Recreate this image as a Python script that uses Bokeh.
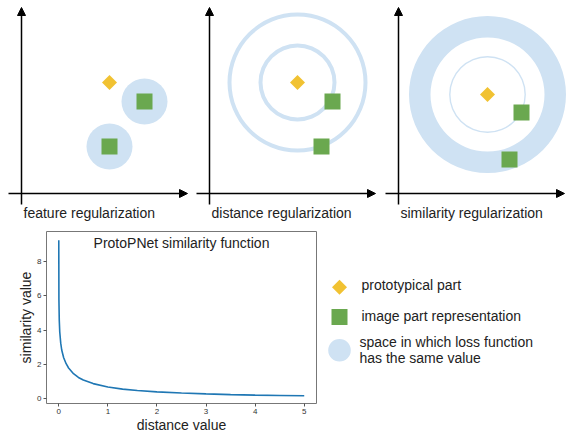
import numpy as np
from bokeh.plotting import figure
from bokeh.models import Range1d, Arrow, NormalHead, FixedTicker
from bokeh.layouts import column, row
from bokeh.embed import file_html
from bokeh.resources import INLINE
from bokeh.core.properties import value

FONT = "Liberation Sans"
LIGHT_BLUE = "#cfe2f3"
GREEN = "#6aa84f"
GOLD = "#f1c232"

# ---------------- data ----------------
panel_titles = ["feature regularization", "distance regularization", "similarity regularization"]
# diagram positions in each panel's own units (origin at the axis crossing, y up)
proto_x = [88, 88, 89]
proto_y = [111, 111, 99]
part_x = [[123, 88], [123, 112], [123, 111]]
part_y = [[92, 47], [92, 47], [81, 34]]
feature_radius = [23, 23]
distance_radii = [37, 68]
similarity_thin_radius = [37.7]
similarity_band = [57, 78.5]

distance = [0.0, 0.003, 0.01, 0.02, 0.04, 0.06, 0.1, 0.15, 0.2, 0.3, 0.4, 0.5,
            0.7, 1.0, 1.3, 1.6, 2.0, 2.5, 3.0, 3.5, 4.0, 4.5, 5.0]
similarity = [9.25, 5.8, 4.6, 3.9, 3.25, 2.85, 2.4, 2.05, 1.8, 1.47, 1.25, 1.1,
              0.89, 0.69, 0.57, 0.49, 0.41, 0.34, 0.29, 0.25, 0.22, 0.20, 0.18]
x_ticks = [0, 1, 2, 3, 4, 5]
y_ticks = [0, 2, 4, 6, 8]
legend_labels = ["prototypical part", "image part representation",
                 "space in which loss function\nhas the same value"]

# ---------------- top: three panels ----------------
TOP_H = 228
top = figure(width=568, height=TOP_H, x_range=Range1d(0, 568), y_range=Range1d(TOP_H, 0),
             output_backend="svg", toolbar_location=None, min_border=0)
top.axis.visible = False
top.grid.visible = False
top.outline_line_color = None

origin_x = [21, 209, 398]
origin_y = 193

def sx(i, v):
    return origin_x[i] + np.asarray(v, dtype=float)

def sy(v):
    return origin_y - np.asarray(v, dtype=float)

# panel 1: circles around the parts
top.circle(sx(0, part_x[0]), sy(part_y[0]), radius=feature_radius,
           fill_color=LIGHT_BLUE, line_color=None)
# panel 2: rings around the prototype
for r in distance_radii:
    top.annulus(x=[sx(1, proto_x[1])], y=[sy(proto_y[1])], inner_radius=r - 2,
                outer_radius=r + 2, fill_color=LIGHT_BLUE, line_color=None)
# panel 3: thick band + thin circle
top.annulus(x=[sx(2, proto_x[2])], y=[sy(proto_y[2])], inner_radius=similarity_band[0],
            outer_radius=similarity_band[1], fill_color=LIGHT_BLUE, line_color=None)
for r in similarity_thin_radius:
    top.annulus(x=[sx(2, proto_x[2])], y=[sy(proto_y[2])], inner_radius=r - 0.7,
                outer_radius=r + 0.7, fill_color=LIGHT_BLUE, line_color=None)

for i in range(3):
    top.scatter(sx(i, part_x[i]), sy(part_y[i]), marker="square", size=16,
                fill_color=GREEN, line_color=None)
    top.scatter([sx(i, proto_x[i])], [sy(proto_y[i])], marker="square", angle=np.pi / 4,
                size=10.6, fill_color=GOLD, line_color=None)
    ox = origin_x[i]
    top.add_layout(Arrow(end=NormalHead(size=8, fill_color="black", line_color="black", line_width=1),
                         x_start=ox, y_start=204, x_end=ox, y_end=7,
                         line_color="black", line_width=1.5))
    top.add_layout(Arrow(end=NormalHead(size=8, fill_color="black", line_color="black", line_width=1),
                         x_start=ox - 13, y_start=origin_y, x_end=min(ox + 166, 565), y_end=origin_y,
                         line_color="black", line_width=1.5))
    top.text(x=[ox + 2], y=[212], text=[panel_titles[i]], text_font=value(FONT),
             text_font_size="14px", text_baseline="middle", text_align="left",
             text_color="#222222")

# ---------------- bottom left: similarity function ----------------
BOT_H = 435 - TOP_H
B_TOP, B_BOTTOM = 3, 28
p = figure(width=320, height=BOT_H, x_range=Range1d(-0.25, 5.25), y_range=Range1d(-0.27, 9.76),
           output_backend="svg", toolbar_location=None,
           min_border_left=46, min_border_right=4, min_border_top=B_TOP, min_border_bottom=B_BOTTOM)
p.grid.visible = False
p.outline_line_color = "#777777"
p.outline_line_width = 1
p.line(distance, similarity, line_color="#1f77b4", line_width=1.6)
p.text(x=[2.5], y=[9.1], text=["ProtoPNet similarity function"], text_font=value(FONT),
       text_font_size="14px", text_align="center", text_baseline="middle", text_color="#222222")
p.xaxis.ticker = FixedTicker(ticks=x_ticks)
p.yaxis.ticker = FixedTicker(ticks=y_ticks)
p.xaxis.axis_label = "distance value"
p.yaxis.axis_label = "similarity value"
for ax in (p.xaxis, p.yaxis):
    ax.axis_line_color = None
    ax.major_tick_line_color = "#555555"
    ax.major_tick_out = 3
    ax.major_tick_in = 0
    ax.minor_tick_line_color = None
    ax.major_label_text_font = FONT
    ax.major_label_text_font_size = "8px"
    ax.major_label_text_color = "#333333"
    ax.major_label_standoff = 2
    ax.axis_label_text_font = FONT
    ax.axis_label_text_font_size = "14px"
    ax.axis_label_text_font_style = "normal"
    ax.axis_label_text_color = "#222222"
    ax.axis_label_standoff = 0

# ---------------- bottom right: legend ----------------
frame_top = TOP_H + B_TOP
frame_bottom = 435 - B_BOTTOM
leg = figure(width=248, height=BOT_H, x_range=Range1d(320, 568),
             y_range=Range1d(frame_bottom, frame_top),
             output_backend="svg", toolbar_location=None,
             min_border_left=0, min_border_right=0, min_border_top=B_TOP, min_border_bottom=B_BOTTOM)
leg.axis.visible = False
leg.grid.visible = False
leg.outline_line_color = None
leg.scatter([339], [288], marker="square", angle=np.pi / 4, size=10.6,
            fill_color=GOLD, line_color=None)
leg.scatter([339], [318.5], marker="square", size=16, fill_color=GREEN, line_color=None)
leg.circle([339], [352.5], radius=11.3, fill_color=LIGHT_BLUE, line_color=None)
text_y = [286, 317, 344]
text_x = [361, 361, 359]
for lbl, tx, ty in zip(legend_labels, text_x, text_y):
    for k, line in enumerate(lbl.split("\n")):
        leg.text(x=[tx], y=[ty + 16 * k], text=[line], text_font=value(FONT),
                 text_font_size="14px", text_baseline="middle", text_align="left",
                 text_color="#222222")

layout = column(top, row(p, leg))
open("out.html", "w").write(file_html(layout, INLINE))
